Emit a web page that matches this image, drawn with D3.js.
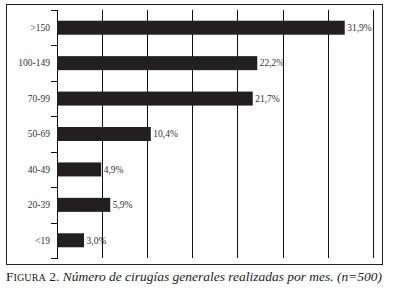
<!DOCTYPE html>
<html><head><meta charset="utf-8">
<script src="https://cdn.jsdelivr.net/npm/d3@7"></script>
<style>body{margin:0;background:#fff}svg{display:block}</style>
</head><body>
<script>
const categories = [">150", "100-149", "70-99", "50-69", "40-49", "20-39", "<19"];
const values = [31.9, 22.2, 21.7, 10.4, 4.9, 5.9, 3.0];
const valueLabels = ["31,9%", "22,2%", "21,7%", "10,4%", "4,9%", "5,9%", "3,0%"];
const xTicks = [5, 10, 15, 20, 25, 30, 35];

const W = 396, H = 290;
const FONT = "'Liberation Serif', 'Times New Roman', serif";
const svg = d3.select("body").append("svg").attr("width", W).attr("height", H);

svg.append("rect").attr("x", 6.5).attr("y", 4.5).attr("width", 376).attr("height", 260)
  .attr("fill", "none").attr("stroke", "#222").attr("stroke-width", 1);

const x = d3.scaleLinear().domain([0, 35]).range([57, 372.7]);
const n = categories.length;
const yc = d => 10 + (categories.indexOf(d) + 0.5) * (248 / n);

// gridlines
svg.append("g").selectAll("line").data(xTicks).join("line")
  .attr("x1", d => Math.round(x(d)) + 0.5).attr("x2", d => Math.round(x(d)) + 0.5)
  .attr("y1", 10).attr("y2", 258).attr("stroke", "#111").attr("stroke-width", 1);

// y axis
svg.append("line").attr("x1", 57.5).attr("x2", 57.5).attr("y1", 10).attr("y2", 258)
  .attr("stroke", "#111");
const bounds = d3.range(n + 1).map(i => 10 + i * (248 / n));
svg.append("g").selectAll("line").data(bounds).join("line")
  .attr("x1", 51).attr("x2", 58).attr("y1", d => Math.round(d) + 0.5).attr("y2", d => Math.round(d) + 0.5)
  .attr("stroke", "#111");

svg.append("g").selectAll("text").data(categories).join("text")
  .attr("x", 50).attr("y", d => yc(d)).attr("dy", "0.35em").attr("text-anchor", "end")
  .style("font-family", FONT).attr("font-size", 9.5).attr("fill", "#333")
  .text(d => d);

// bars
const bh = 14;
svg.append("g").selectAll("rect").data(values).join("rect")
  .attr("x", x(0)).attr("y", (d, i) => yc(categories[i]) - bh / 2)
  .attr("width", d => x(d) - x(0)).attr("height", bh).attr("fill", "#231f20");

svg.append("g").selectAll("text").data(values).join("text")
  .attr("x", d => x(d) + 2.5).attr("y", (d, i) => yc(categories[i])).attr("dy", "0.35em")
  .style("font-family", FONT).attr("font-size", 9.5).attr("fill", "#333")
  .text((d, i) => valueLabels[i]);

// caption
const cap = svg.append("text").attr("x", 6).attr("y", 281)
  .style("font-family", FONT).attr("font-size", 12.5).attr("fill", "#222")
  .attr("textLength", 376).attr("lengthAdjust", "spacingAndGlyphs");
cap.append("tspan").text("F");
cap.append("tspan").attr("font-size", 9.5).text("IGURA");
cap.append("tspan").text(" 2. ");
cap.append("tspan").attr("font-style", "italic").text("Número de cirugías generales realizadas por mes. (n=500)");
</script>
</body></html>
